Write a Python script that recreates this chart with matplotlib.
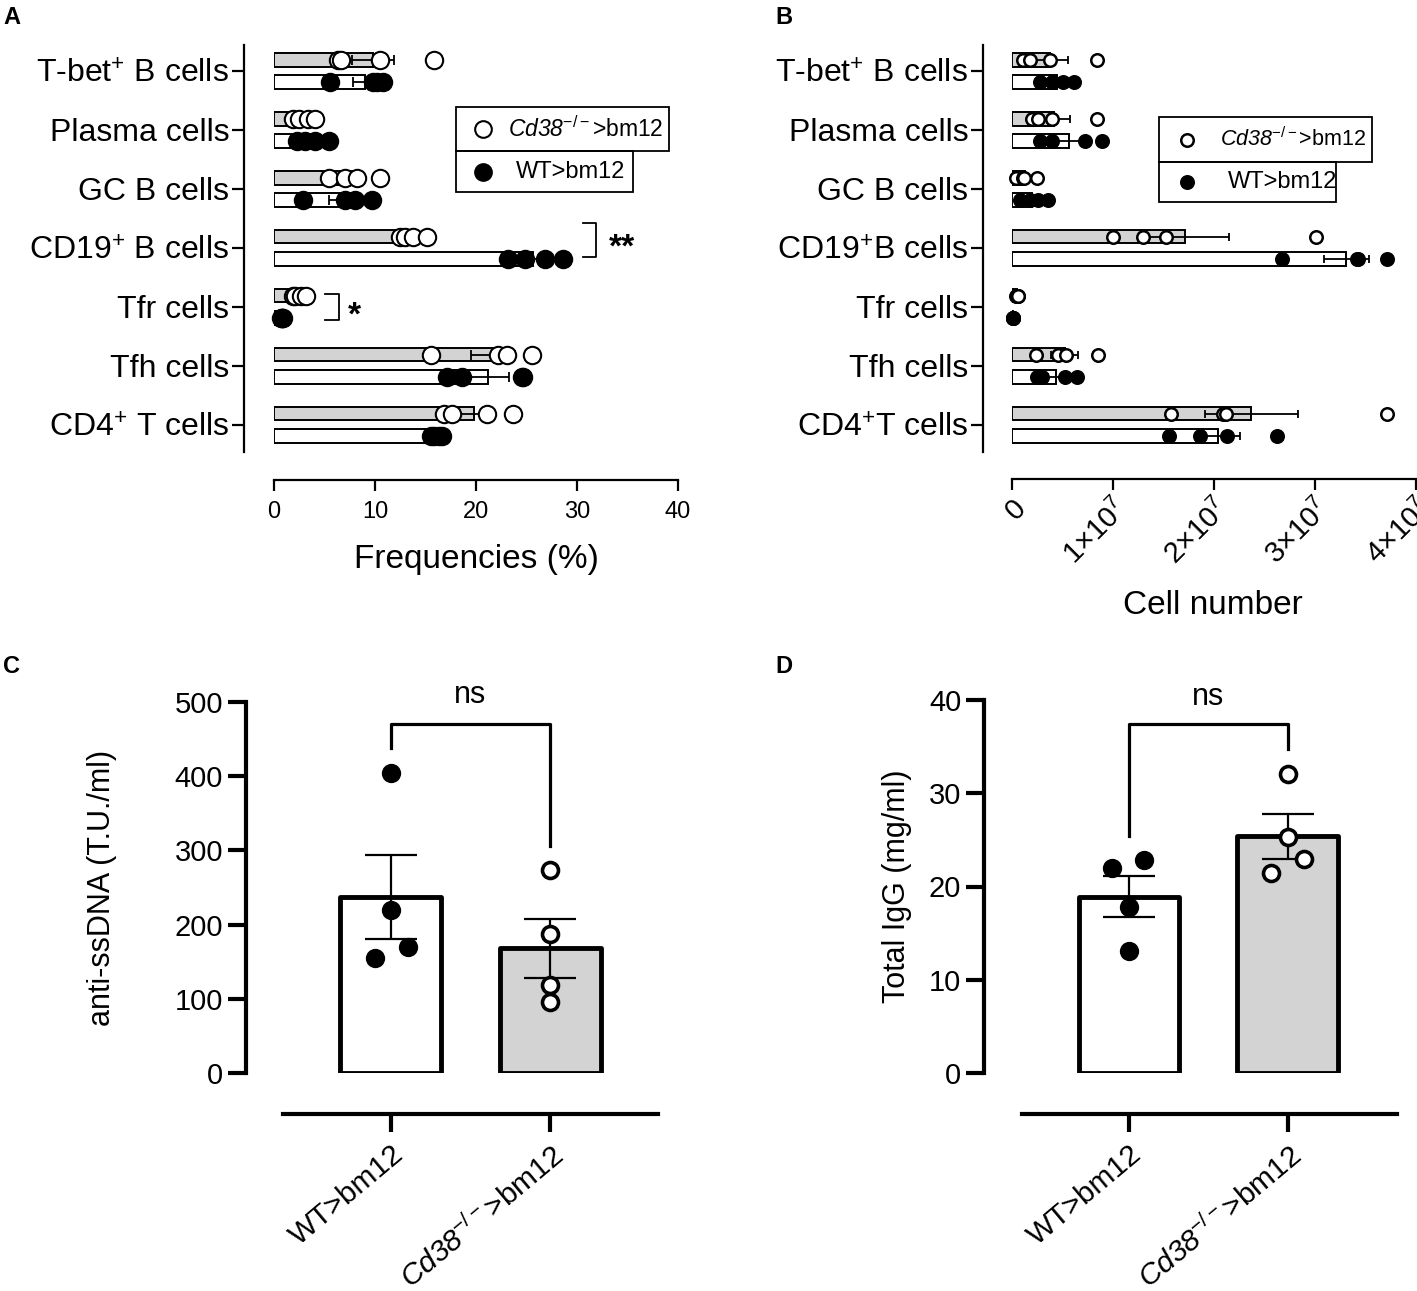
import numpy as np
import matplotlib
matplotlib.use('Agg')
import matplotlib.pyplot as plt
from matplotlib.patches import Rectangle
from matplotlib.lines import Line2D

plt.rcParams['font.family'] = ['Liberation Sans', 'DejaVu Sans']
plt.rcParams['mathtext.fontset'] = 'custom'
plt.rcParams['mathtext.rm'] = 'Liberation Sans'
plt.rcParams['mathtext.it'] = 'Liberation Sans:italic'
plt.rcParams['mathtext.sf'] = 'Liberation Sans:italic'
plt.rcParams['mathtext.bf'] = 'Liberation Sans:bold'

KO_LABEL = r'$\mathsf{Cd38}^{\mathrm{-/-}}$>bm12'
WT_LABEL = 'WT>bm12'
GREY = '#d3d3d3'

# panel A - frequencies (%)
cells_a = ['T-bet$^{+}$ B cells', 'Plasma cells', 'GC B cells', 'CD19$^{+}$ B cells',
           'Tfr cells', 'Tfh cells', 'CD4$^{+}$ T cells']
freq_ko_mean = [9.8, 3.0, 7.8, 13.6, 2.5, 21.7, 19.8]
freq_ko_sem = [2.1, 0.6, 1.1, 0.6, 0.3, 2.2, 1.7]
freq_ko_pts = [[6.3, 6.6, 10.5, 15.8], [1.9, 2.5, 3.4, 4.1], [5.4, 7.0, 8.2, 10.5],
               [12.5, 13.0, 13.8, 15.1], [1.9, 2.1, 2.7, 3.2], [15.5, 22.2, 23.1, 25.5],
               [16.8, 17.6, 21.1, 23.7]]
freq_wt_mean = [9.0, 3.7, 6.8, 25.6, 0.8, 21.2, 16.0]
freq_wt_sem = [1.2, 0.6, 1.4, 1.2, 0.1, 2.1, 0.3]
freq_wt_pts = [[5.5, 9.8, 10.2, 10.8], [2.3, 3.1, 4.1, 5.4], [2.9, 7.0, 8.0, 9.7],
               [23.2, 24.9, 26.8, 28.6], [0.7, 0.8, 0.9, 0.8], [17.1, 18.6, 24.6, 24.7],
               [15.5, 15.8, 16.3, 16.6]]

# panel B - cell number (x1e7)
cells_b = ['T-bet$^{+}$ B cells', 'Plasma cells', 'GC B cells', 'CD19$^{+}$B cells',
           'Tfr cells', 'Tfh cells', 'CD4$^{+}$T cells']
cnt_ko_mean = [0.38, 0.42, 0.13, 1.71, 0.05, 0.52, 2.37]
cnt_ko_sem = [0.17, 0.15, 0.04, 0.44, 0.01, 0.13, 0.46]
cnt_ko_pts = [[0.11, 0.18, 0.38, 0.84], [0.20, 0.26, 0.40, 0.84], [0.04, 0.11, 0.12, 0.25],
              [1.00, 1.30, 1.52, 3.01], [0.04, 0.05, 0.06, 0.06], [0.24, 0.46, 0.53, 0.85],
              [1.57, 2.09, 2.12, 3.71]]
cnt_wt_mean = [0.45, 0.56, 0.20, 3.31, 0.01, 0.44, 2.04]
cnt_wt_sem = [0.07, 0.14, 0.05, 0.22, 0.002, 0.08, 0.22]
cnt_wt_pts = [[0.28, 0.40, 0.50, 0.61], [0.28, 0.40, 0.72, 0.89], [0.08, 0.18, 0.26, 0.36],
              [2.67, 3.42, 3.43, 3.71], [0.01, 0.01, 0.01, 0.01], [0.25, 0.30, 0.52, 0.64],
              [1.55, 1.86, 2.13, 2.62]]
cnt_ticks = [0, 1, 2, 3, 4]
cnt_ticklabels = ['0', r'1$\times$10$^{7}$', r'2$\times$10$^{7}$', r'3$\times$10$^{7}$', r'4$\times$10$^{7}$']

# panel C - anti-ssDNA (T.U./ml)
groups = [WT_LABEL, KO_LABEL]
ssdna_mean = [237, 168]
ssdna_sem = [57, 40]
ssdna_wt = [404, 220, 155, 170]
ssdna_ko = [273, 187, 118, 96]

# panel D - total IgG (mg/ml)
igg_mean = [18.9, 25.4]
igg_sem = [2.2, 2.4]
igg_wt = [22.0, 22.8, 17.8, 13.1]
igg_ko = [32.1, 25.3, 22.9, 21.4]

W, H = 1417, 1291
fig = plt.figure(figsize=(W / 100, H / 100), dpi=100)


def px(x, y):
    return x / W, 1 - y / H


def pt(p):
    return p * 72 / 100


def hbar_panel(ax, cells, ko_mean, ko_sem, ko_pts, wt_mean, wt_sem, wt_pts, ms, mew, cap,
               left_out, bottom_out):
    y = np.arange(len(cells))
    off = 0.19
    ax.barh(y - off, ko_mean, height=0.23, color=GREY, edgecolor='k', lw=1.4, zorder=2)
    ax.barh(y + off, wt_mean, height=0.23, color='white', edgecolor='k', lw=1.4, zorder=2)
    ax.errorbar(ko_mean, y - off, xerr=ko_sem, fmt='none', ecolor='k', elinewidth=1.3,
                capsize=cap, capthick=1.3, zorder=3)
    ax.errorbar(wt_mean, y + off, xerr=wt_sem, fmt='none', ecolor='k', elinewidth=1.3,
                capsize=cap, capthick=1.3, zorder=3)
    for i in range(len(cells)):
        ax.plot(ko_pts[i], [y[i] - off] * len(ko_pts[i]), 'o', mfc='white', mec='k',
                ms=ms, mew=mew, zorder=4, clip_on=False)
        ax.plot(wt_pts[i], [y[i] + off] * len(wt_pts[i]), 'o', mfc='k', mec='k',
                ms=ms, mew=mew, zorder=4, clip_on=False)
    ax.set_ylim(6.46, -0.44)
    for s in ['top', 'right']:
        ax.spines[s].set_visible(False)
    ax.spines['left'].set_position(('outward', pt(left_out)))
    ax.spines['bottom'].set_position(('outward', pt(bottom_out)))
    ax.spines['left'].set_linewidth(1.6)
    ax.spines['bottom'].set_linewidth(1.6)
    ax.tick_params(axis='y', length=pt(12), width=1.6, pad=2, labelsize=23)
    ax.tick_params(axis='x', length=pt(11), width=1.6)
    ax.set_yticks(y)
    ax.set_yticklabels(cells, fontsize=23)


def legend_box(x0, y0, w1, w2, h1, h2, mx, tx, ms, mew, fs_ko, fs_wt):
    fig.add_artist(Rectangle(px(x0, y0 + h1), w1 / W, h1 / H, transform=fig.transFigure,
                             fill=False, ec='k', lw=1.3))
    fig.add_artist(Rectangle(px(x0, y0 + h1 + h2), w2 / W, h2 / H, transform=fig.transFigure,
                             fill=False, ec='k', lw=1.3))
    fig.add_artist(Line2D([mx / W], [1 - (y0 + h1 / 2) / H], marker='o', mfc='white', mec='k',
                          ms=ms, mew=mew, transform=fig.transFigure))
    fig.add_artist(Line2D([mx / W], [1 - (y0 + h1 + h2 / 2) / H], marker='o', mfc='k', mec='k',
                          ms=ms, mew=mew, transform=fig.transFigure))
    fig.text(*px(tx, y0 + h1 / 2), KO_LABEL, fontsize=fs_ko, va='center', ha='left')
    fig.text(*px(tx + 8, y0 + h1 + h2 / 2), WT_LABEL, fontsize=fs_wt, va='center', ha='left')


# ---- A
axA = fig.add_axes([274 / W, 1 - 452 / H, 404 / W, 407 / H])
hbar_panel(axA, cells_a, freq_ko_mean, freq_ko_sem, freq_ko_pts,
           freq_wt_mean, freq_wt_sem, freq_wt_pts, ms=12.5, mew=1.5, cap=3.5,
           left_out=30, bottom_out=28)
axA.set_xlim(0, 40)
axA.set_xticks([0, 10, 20, 30, 40])
axA.tick_params(axis='x', labelsize=17, pad=7)
axA.set_xlabel('Frequencies (%)', fontsize=24)
axA.xaxis.set_label_coords(0.5, -0.227)
axA.plot([30.6, 31.9, 31.9, 30.6], [2.58, 2.58, 3.15, 3.15], color='k', lw=1.3, clip_on=False)
axA.text(34.5, 3.0, '**', fontsize=24, fontweight='bold', ha='center', va='center')
axA.plot([5.05, 6.4, 6.4, 5.05], [3.78, 3.78, 4.22, 4.22], color='k', lw=1.3, clip_on=False)
axA.text(8.0, 4.15, '*', fontsize=24, fontweight='bold', ha='center', va='center')
legend_box(456, 107, 213, 177, 44, 41, 483, 508, ms=12, mew=1.5, fs_ko=16.5, fs_wt=17)

# ---- B
axB = fig.add_axes([1012 / W, 1 - 452 / H, 404 / W, 407 / H])
hbar_panel(axB, cells_b, cnt_ko_mean, cnt_ko_sem, cnt_ko_pts,
           cnt_wt_mean, cnt_wt_sem, cnt_wt_pts, ms=9, mew=1.8, cap=3,
           left_out=29, bottom_out=27)
axB.set_xlim(0, 4)
axB.tick_params(axis='x', pad=3)
axB.set_xticks(cnt_ticks)
axB.set_xticklabels(cnt_ticklabels, fontsize=21, rotation=45, ha='right', va='top',
                    rotation_mode='anchor')
axB.set_xlabel('Cell number', fontsize=24)
axB.xaxis.set_label_coords(0.4975, -0.34)
legend_box(1159, 117, 213, 177, 45, 40, 1187, 1220, ms=9, mew=1.8, fs_ko=15.5, fs_wt=17)


# ---- C / D
def vbar_panel(ax, mean, sem, wt, ko, wt_jit, ko_jit, left_out, bottom_out):
    x = np.arange(2)
    bars = ax.bar(x, mean, width=0.635, color=['white', GREY], edgecolor='k', lw=3.5, zorder=2)
    for b in bars:
        b.set_joinstyle('round')
    ax.errorbar(x, mean, yerr=sem, fmt='none', ecolor='k', elinewidth=1.6,
                capsize=pt(26), capthick=1.6, zorder=3)
    ax.plot(x[0] + np.array(wt_jit), wt, 'o', mfc='k', mec='k', ms=11.5, mew=2.4, zorder=4)
    ax.plot(x[1] + np.array(ko_jit), ko, 'o', mfc='white', mec='k', ms=11.5, mew=2.6, zorder=4)
    for s in ['top', 'right']:
        ax.spines[s].set_visible(False)
    ax.spines['left'].set_position(('outward', pt(left_out)))
    ax.spines['bottom'].set_position(('outward', pt(bottom_out)))
    ax.spines['left'].set_linewidth(3)
    ax.spines['bottom'].set_linewidth(3)
    ax.tick_params(axis='both', length=pt(18), width=3, labelsize=21)
    ax.tick_params(axis='x', pad=6)
    ax.set_xticks(x)
    ax.set_xticklabels(groups, fontsize=21.5, rotation=40, ha='right', va='top',
                       rotation_mode='anchor')


axC = fig.add_axes([283 / W, 1 - 1073 / H, 375 / W, 371 / H])
vbar_panel(axC, ssdna_mean, ssdna_sem, ssdna_wt, ssdna_ko, [0, 0, -0.1, 0.11], [0, 0, 0, 0],
           left_out=37, bottom_out=41)
axC.set_xlim(-0.679, 1.679)
axC.set_ylim(0, 500)
axC.set_yticks([0, 100, 200, 300, 400, 500])
axC.set_ylabel('anti-ssDNA (T.U./ml)', fontsize=22)
axC.yaxis.set_label_coords(-0.442, 0.5)
axC.plot([0, 0, 1, 1], [438, 470, 470, 306], color='k', lw=2.3, clip_on=False)
axC.text(0.5, 509, 'ns', fontsize=22, ha='center', va='center')

axD = fig.add_axes([1022 / W, 1 - 1073 / H, 375 / W, 373 / H])
vbar_panel(axD, igg_mean, igg_sem, igg_wt, igg_ko, [-0.105, 0.094, 0, 0], [0, 0, 0.1, -0.105],
           left_out=38, bottom_out=41)
axD.set_xlim(-0.673, 1.686)
axD.set_ylim(0, 40)
axD.set_yticks([0, 10, 20, 30, 40])
axD.set_ylabel('Total IgG (mg/ml)', fontsize=22)
axD.yaxis.set_label_coords(-0.294, 0.5)
axD.plot([0, 0, 1, 1], [25.4, 37.4, 37.4, 34.7], color='k', lw=2.3, clip_on=False)
axD.text(0.5, 40.3, 'ns', fontsize=22, ha='center', va='center')

for lab, (x, y) in zip('ABCD', [(3, 6), (775, 6), (3, 655), (775, 655)]):
    fig.text(*px(x, y), lab, fontsize=17, fontweight='bold', va='top', ha='left')

fig.savefig('out.png', dpi=100)
